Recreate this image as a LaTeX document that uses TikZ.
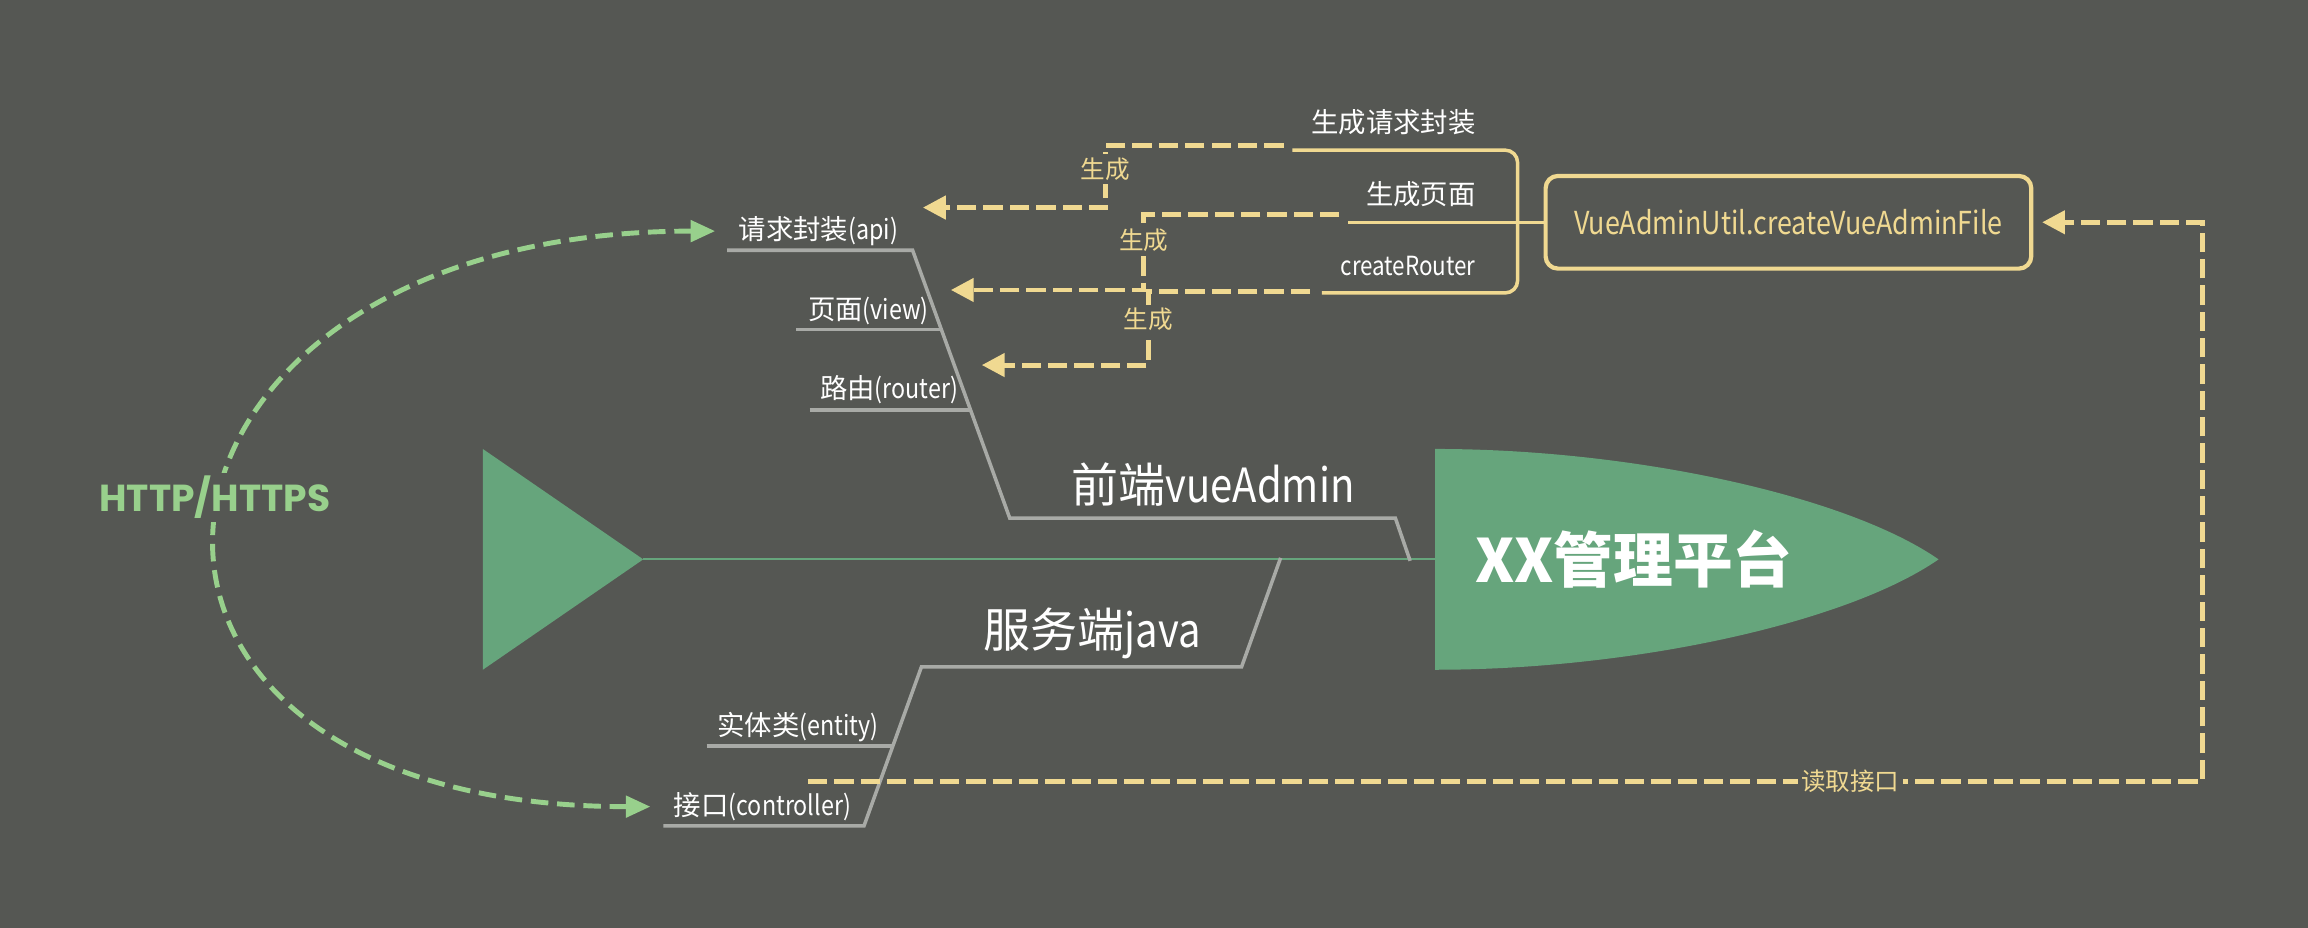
\documentclass[tikz,border=0pt]{standalone}
\usepackage{fontspec}
\setmainfont{Noto Sans CJK SC}
\newfontfamily\latfont[FakeStretch=0.85]{Noto Sans CJK SC}
\newfontfamily\httpfont{Poppins}
\usetikzlibrary{arrows.meta,positioning}

\definecolor{bg}{HTML}{555753}
\definecolor{fishgreen}{HTML}{66A57C}
\definecolor{lightgreen}{HTML}{98D08C}
\definecolor{gold}{HTML}{F0D991}
\definecolor{bonegray}{HTML}{A8AAA6}

\newcommand{\lat}[1]{{\latfont #1}}

\begin{document}
\begin{tikzpicture}[x=0.01472cm,y=-0.01472cm,
    bone/.style={draw=bonegray, line width=1pt},
    lbl/.style={text=white, inner sep=0pt, font=\fontsize{7.8}{8}\selectfont},
    big/.style={text=white, inner sep=0pt, font=\fontsize{13.4}{14}\selectfont},
    gen/.style={draw=gold, line width=1.4pt, dash pattern=on 5.5pt off 2pt,
        -{Triangle[length=6.5pt,width=6.5pt]}},
    genlbl/.style={text=gold, fill=bg, inner sep=1pt, font=\fontsize{7}{7}\selectfont},
    brk/.style={draw=gold, line width=1pt, rounded corners=3.5pt}]
\tikzstyle{http}=[draw=lightgreen, line width=1.4pt, dash pattern=on 5pt off 2.5pt,
    {Triangle[length=7pt,width=6pt]}-{Triangle[length=7pt,width=6pt]},
    shorten <=6.5pt, shorten >=6.5pt]

\fill[bg] (0,0) rectangle (1568,630.4);
\useasboundingbox (0,0) rectangle (1568,630.4);

% fish
\coordinate (tail) at (437,380);
\coordinate (neck) at (975,380);
\fill[fishgreen] (328,305) -- (tail) -- (328,455) -- cycle;
\fill[fishgreen] (975,305) .. controls (1110,305) and (1255,337) .. (1317,380)
                 .. controls (1255,423) and (1110,455) .. (975,455) -- cycle;
\draw[fishgreen, line width=0.5pt] (tail) -- (neck);

\node[text=white, inner sep=0pt, font=\bfseries\fontsize{17}{17}\selectfont]
      (head) at (1110,380) {XX管理平台};

% bones
\draw[bone] (494,170) -- (620,170) -- (686,352) -- (948,352) -- (958,381);
\draw[bone] (541,224) -- (639.6,224);
\draw[bone] (550,278.5) -- (659.3,278.5);
\draw[bone] (870,379) -- (843.5,453) -- (626,453) -- (587,561) -- (450.6,561);
\draw[bone] (480,506.8) -- (606.6,506.8);

\node[lbl]  (api)    at (556,157)   {请求封装\lat{(api)}};
\node[lbl]  (view)   at (590,211)   {页面\lat{(view)}};
\node[lbl]  (router) at (604,265)   {路由\lat{(router)}};
\node[lbl]  (entity) at (542,494)   {实体类\lat{(entity)}};
\node[lbl]  (ctrl)   at (518,548)   {接口\lat{(controller)}};
\node[big]  (front)  at (824,329)   {前端\lat{vueAdmin}};
\node[big]  (server) at (742,430)   {服务端\lat{java}};

% generator
\node[draw=gold, line width=1.2pt, rounded corners=3.5pt, minimum width=4.858cm,
      minimum height=0.927cm, text=gold, font=\latfont\fontsize{9}{9}\selectfont]
      (util) at (1215,151) {VueAdminUtil.createVueAdminFile};

\node[lbl, anchor=east] (genapi)  at (1003,83)  {生成请求封装};
\node[lbl, anchor=east] (genview) at (1003,132) {生成页面};
\node[lbl, anchor=east, font=\latfont\fontsize{7.5}{8}\selectfont]
                        (genrt)   at (1003,181) {createRouter};

\draw[brk] (878,102) -- (1031,102) -- (1031,199) -- (898,199);
\draw[brk] (916,151) -- (util.west);

\coordinate (s1) at (872,99);   \coordinate (t1) at (627,141);
\coordinate (s2) at (910,146);  \coordinate (t2) at (646,197);
\coordinate (s3) at (890,198);  \coordinate (t3) at (667,248);
\coordinate (s4) at (549,531);

\draw[gen] (s1) -| (751,141) -- (t1);
\draw[gen] (s2) -| (777,197) -- (t2);
\draw[gen] (s3) -| (780,248) -- (t3);
\draw[gen] (s4) -| (1496,151) -- ([xshift=2.5pt]util.east);

\node[genlbl] (g1) at (751,115)  {生成};
\node[genlbl] (g2) at (777,163)  {生成};
\node[genlbl] (g3) at (780,217)  {生成};
\node[genlbl] (rd) at (1257,531) {读取接口};

% http
\draw[http] (api.west) .. controls +(-435,0) and +(-435,0) .. (ctrl.west);
\node[text=lightgreen, fill=bg, inner sep=1pt, font=\httpfont\bfseries\fontsize{10.7}{11}\selectfont]
      (web) at (146,338) {HTTP/HTTPS};

\end{tikzpicture}
\end{document}
